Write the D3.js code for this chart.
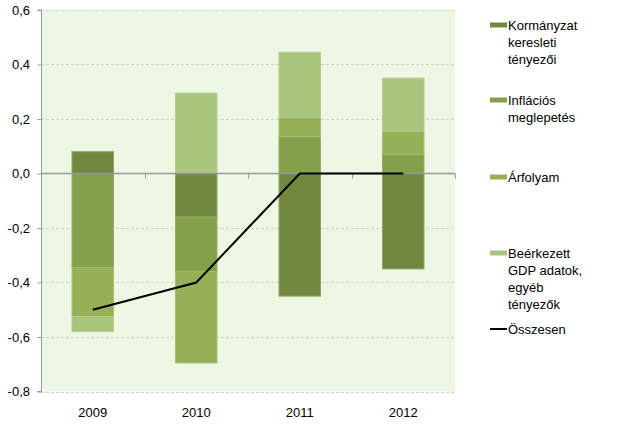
<!DOCTYPE html>
<html><head><meta charset="utf-8">
<script src="https://cdn.jsdelivr.net/npm/d3@7"></script>
<style>body{margin:0;background:#fff}svg{display:block}text{font-family:"Liberation Sans",Arial,sans-serif;fill:#000}</style>
</head><body><svg id="c" width="624" height="444"></svg>
<script>
const categories = ["2009", "2010", "2011", "2012"];
const seriesNames = ["Kormányzat keresleti tényezői", "Inflációs meglepetés", "Árfolyam", "Beérkezett GDP adatok, egyéb tényezők"];
const kormanyzat = [0.08, -0.16, -0.45, -0.35];
const inflacios = [-0.345, -0.20, 0.135, 0.07];
const arfolyam = [-0.18, -0.335, 0.07, 0.085];
const beerkezett = [-0.055, 0.295, 0.24, 0.195];
const osszesen = [-0.5, -0.4, 0, 0];
const yTicks = [0.6, 0.4, 0.2, 0.0, -0.2, -0.4, -0.6, -0.8];
const legendLines = [["Kormányzat", "keresleti", "tényezői"], ["Inflációs", "meglepetés"], ["Árfolyam"], ["Beérkezett", "GDP adatok,", "egyéb", "tényezők"]];
const lineName = "Összesen";

const fills = ["#71893e", "#84a04a", "#96b058", "#a9c47c"];
const strokes = ["#8aa35a", "#93ad5e", "#a5bd6c", "#b5cd8c"];

const svg = d3.select("#c");
const L = 41, R = 455, T = 10, B = 391.5;
const x = d3.scaleBand().domain(categories).range([L, R]).paddingInner(0.59).paddingOuter(0.295);
const y = d3.scaleLinear().domain([-0.8, 0.6]).range([B, T]);

svg.append("rect").attr("x", L).attr("y", T).attr("width", R - L).attr("height", B - T).attr("fill", "#eef6e4");

// gridlines
svg.append("g").selectAll("line").data(yTicks.filter(d => d !== 0)).join("line")
  .attr("x1", L).attr("x2", R).attr("y1", d => Math.round(y(d)) + 0.5).attr("y2", d => Math.round(y(d)) + 0.5)
  .attr("stroke", "#cfd2cb").attr("stroke-dasharray", "3,2").attr("stroke-width", 1);

// stacks
const all = [kormanyzat, inflacios, arfolyam, beerkezett];
const segs = [];
categories.forEach((c, i) => {
  let pos = 0, neg = 0;
  all.forEach((s, k) => {
    const v = s[i];
    let y0, y1;
    if (v >= 0) { y0 = pos; y1 = pos + v; pos = y1; } else { y0 = neg; y1 = neg + v; neg = y1; }
    segs.push({ c, k, y0, y1 });
  });
});
svg.append("g").selectAll("rect").data(segs).join("rect")
  .attr("x", d => x(d.c) + 0.5)
  .attr("width", x.bandwidth() - 1)
  .attr("y", d => y(Math.max(d.y0, d.y1)))
  .attr("height", d => Math.abs(y(d.y0) - y(d.y1)))
  .attr("fill", d => fills[d.k])
  .attr("stroke", d => strokes[d.k]).attr("stroke-width", 1);

// zero axis
const y0p = Math.round(y(0)) + 0.5;
svg.append("line").attr("x1", L).attr("x2", R).attr("y1", y0p).attr("y2", y0p).attr("stroke", "#999").attr("stroke-width", 1.5);
const bounds = categories.map((c, i) => L + (R - L) / categories.length * (i + 1));
svg.append("g").selectAll("line").data(bounds).join("line")
  .attr("x1", d => Math.round(d) + 0.5).attr("x2", d => Math.round(d) + 0.5).attr("y1", y0p).attr("y2", y0p + 5)
  .attr("stroke", "#999");

// left axis
const yAxis = d3.axisLeft(y).tickValues(yTicks).tickSize(4).tickPadding(7.5)
  .tickFormat(d => d3.format(".1f")(d).replace(".", ",").replace("−", "-"));
const ga = svg.append("g").attr("transform", `translate(${L + 0.5},0)`).call(yAxis);
ga.select(".domain").attr("stroke", "#999").attr("d", `M-4,${T}H0V${B}H-4`);
ga.selectAll(".tick line").attr("stroke", "#999");
ga.selectAll(".tick text").attr("font-size", 13).attr("font-family", "Liberation Sans, Arial, sans-serif").attr("fill", "#000");

// x labels
svg.append("g").selectAll("text").data(categories).join("text")
  .attr("x", d => x(d) + x.bandwidth() / 2).attr("y", 417)
  .attr("text-anchor", "middle").attr("font-size", 13).text(d => d);

// line
const line = d3.line().x((d, i) => x(categories[i]) + x.bandwidth() / 2).y(d => y(d));
svg.append("path").datum(osszesen).attr("d", line).attr("fill", "none").attr("stroke", "#000").attr("stroke-width", 2);

// legend
const legTops = [25, 100, 177, 253];
const lg = svg.append("g");
legendLines.forEach((lines, k) => {
  lg.append("rect").attr("x", 490).attr("y", legTops[k] - 2.5).attr("width", 17).attr("height", 5).attr("fill", fills[k]);
  lines.forEach((t, j) => {
    lg.append("text").attr("x", 508).attr("y", legTops[k] + j * 17.3 + 4.5).attr("font-size", 13).text(t);
  });
});
lg.append("line").attr("x1", 490).attr("x2", 507).attr("y1", 329).attr("y2", 329).attr("stroke", "#000").attr("stroke-width", 2);
lg.append("text").attr("x", 508).attr("y", 333.5).attr("font-size", 13).text(lineName);
</script></body></html>
